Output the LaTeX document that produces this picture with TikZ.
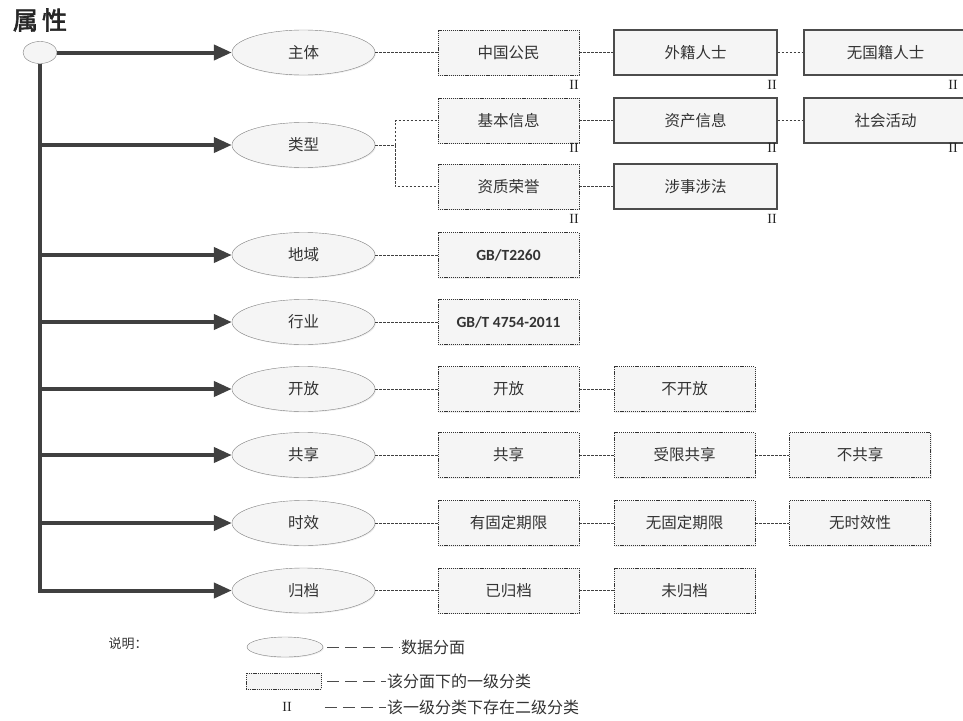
\documentclass[tikz,border=0pt]{standalone}
\usepackage{fontspec}
\setmainfont{Liberation Sans}
\newfontfamily\cjk{Noto Sans CJK SC}
\newfontfamily\cjkbold[FakeBold=2.5]{Noto Sans CJK SC}
\newfontfamily\stdfont{Carlito}
\newfontfamily\romfont{Liberation Serif}
\usepackage{tikz}
\usetikzlibrary{arrows.meta,shapes.geometric,positioning,shadows}

\begin{document}
\begin{tikzpicture}[x=1pt,y=-1pt]
		\tikzstyle{facet}=[ellipse, draw=black!50, fill=black!4, minimum width=143pt, minimum height=45pt, inner sep=0pt, text=black!80, font=\cjk\fontsize{15.5}{18}\selectfont, drop shadow={opacity=0.12, shadow xshift=1pt, shadow yshift=-1pt}]
		\tikzstyle{cat}=[rectangle, draw=black!80, dash pattern=on 1.2pt off 0.9pt, fill=black!4, minimum width=141pt, minimum height=45pt, inner sep=0pt, text=black!80, font=\cjk\fontsize{15.5}{18}\selectfont, drop shadow={opacity=0.12, shadow xshift=1pt, shadow yshift=-1pt}]
		\tikzstyle{sub}=[rectangle, draw=black!70, line width=1.1pt, fill=black!4, minimum width=163pt, minimum height=45pt, inner sep=0pt, text=black!80, font=\cjk\fontsize{15.5}{18}\selectfont, drop shadow={opacity=0.12, shadow xshift=1pt, shadow yshift=-1pt}]
		\tikzstyle{lvl}=[inner sep=1pt, text=black!85, font=\romfont\fontsize{14}{14}\selectfont]
		\tikzstyle{note}=[inner sep=1pt, text=black!80, font=\cjk\fontsize{16}{18}\selectfont]
		\tikzstyle{link}=[draw=black!75, line width=0.8pt, dash pattern=on 2.5pt off 1.5pt]
		\tikzstyle{leader}=[draw=black!70, line width=0.9pt, dash pattern=on 12pt off 6pt]
		\tikzstyle{trunk}=[draw=black!75, line width=4pt, -{Triangle[length=18pt,width=15pt]}]
		
		\useasboundingbox (0,0) rectangle (963,720);
		
		% Title and root
		\node at (40,20) [text=black!85, font=\cjkbold\fontsize{25}{28}\selectfont] (title) {属\,性};
		\node at (40,52.5) [ellipse, draw=black!50, fill=black!4, minimum width=34pt, minimum height=22pt, inner sep=0pt] (root) {};
		
		% Facets
		\foreach \n/\y/\t in {1/52.5/主体, 2/145/类型, 3/255/地域, 4/322/行业, 5/389/开放, 6/455/共享, 7/523/时效, 8/590.5/归档}
		\node at (303.5,\y) [facet] (f\n) {\t};
		
		% Trunk -> facets
		\draw [trunk] (root.east) -- (f1.west);
		\foreach \n in {2,...,7}
		\draw [trunk] (root.south |- f\n.west) -- (f\n.west);
		\draw [trunk] (root.south) |- (f8.west);
		
		% Subject
		\node at (508.5,52.5) [cat] (r1a) {中国公民};
		\node at (695.5,52.5) [sub] (r1b) {外籍人士};
		\node at (885.5,52.5) [sub] (r1c) {无国籍人士};
		
		% Type
		\node at (508.5,120.5) [cat] (r2a) {基本信息};
		\node at (695.5,120.5) [sub] (r2b) {资产信息};
		\node at (885.5,120.5) [sub] (r2c) {社会活动};
		\node at (508.5,186.5) [cat] (r2d) {资质荣誉};
		\node at (695.5,186.5) [sub] (r2e) {涉事涉法};
		
		% Region, industry
		\node at (508.5,255) [cat, font=\stdfont\bfseries\fontsize{15.5}{18}\selectfont] (r3a) {GB/T2260};
		\node at (508.5,322) [cat, font=\stdfont\bfseries\fontsize{15.5}{18}\selectfont] (r4a) {GB/T 4754-2011};
		
		% Open
		\node at (508.5,389) [cat] (r5a) {开放};
		\node at (684.5,389) [cat] (r5b) {不开放};
		
		% Share
		\node at (508.5,455) [cat] (r6a) {共享};
		\node at (684.5,455) [cat] (r6b) {受限共享};
		\node at (860,455) [cat] (r6c) {不共享};
		
		% Validity
		\node at (508.5,523) [cat] (r7a) {有固定期限};
		\node at (684.5,523) [cat] (r7b) {无固定期限};
		\node at (860,523) [cat] (r7c) {无时效性};
		
		% Archive
		\node at (508.5,590.5) [cat] (r8a) {已归档};
		\node at (684.5,590.5) [cat] (r8b) {未归档};
		
		% Second level marks
		\foreach \x/\y [count=\i] in {574/85, 772/85, 953/85, 574/148, 772/148, 953/148, 574/219, 772/219}
		\node at (\x,\y) [lvl] (ii\i) {II};
		
		% Facets -> categories
		\draw [link] (f1) -- (r1a);
		\draw [link] (r1a) -- (r1b);
		\draw [link] (r1b) -- (r1c);
		\draw [link] (f2.east) -- ++(20,0) coordinate (fork) |- (r2a.west);
		\draw [link] (fork) |- (r2d.west);
		\draw [link] (r2a) -- (r2b);
		\draw [link] (r2b) -- (r2c);
		\draw [link] (r2d) -- (r2e);
		\foreach \n in {3,...,8}
		\draw [link] (f\n) -- (r\n a);
		\draw [link] (r5a) -- (r5b);
		\draw [link] (r6a) -- (r6b);
		\draw [link] (r6b) -- (r6c);
		\draw [link] (r7a) -- (r7b);
		\draw [link] (r7b) -- (r7c);
		\draw [link] (r8a) -- (r8b);
		
		% Legend
		\node at (128,644) [note, font=\cjk\fontsize{13}{15}\selectfont] (legend) {说明：};
		\node at (285,647) [facet, minimum width=76pt, minimum height=20pt] (key1) {};
		\node at (283.5,681) [cat, minimum width=75pt, minimum height=16pt] (key2) {};
		\node at (287,707) [lvl] (key3) {II};
		\node at (400,647) [note, anchor=west] (txt1) {数据分面};
		\node at (386,681) [note, anchor=west] (txt2) {该分面下的一级分类};
		\node at (386,707) [note, anchor=west] (txt3) {该一级分类下存在二级分类};
		\draw [leader] (key1.east) ++(4,0) -- (txt1.west);
		\draw [leader] (key2.east) ++(6,0) -- (txt2.west);
		\draw [leader] (key3.east) ++(32,0) -- (txt3.west);
		
\end{tikzpicture}
\end{document}
